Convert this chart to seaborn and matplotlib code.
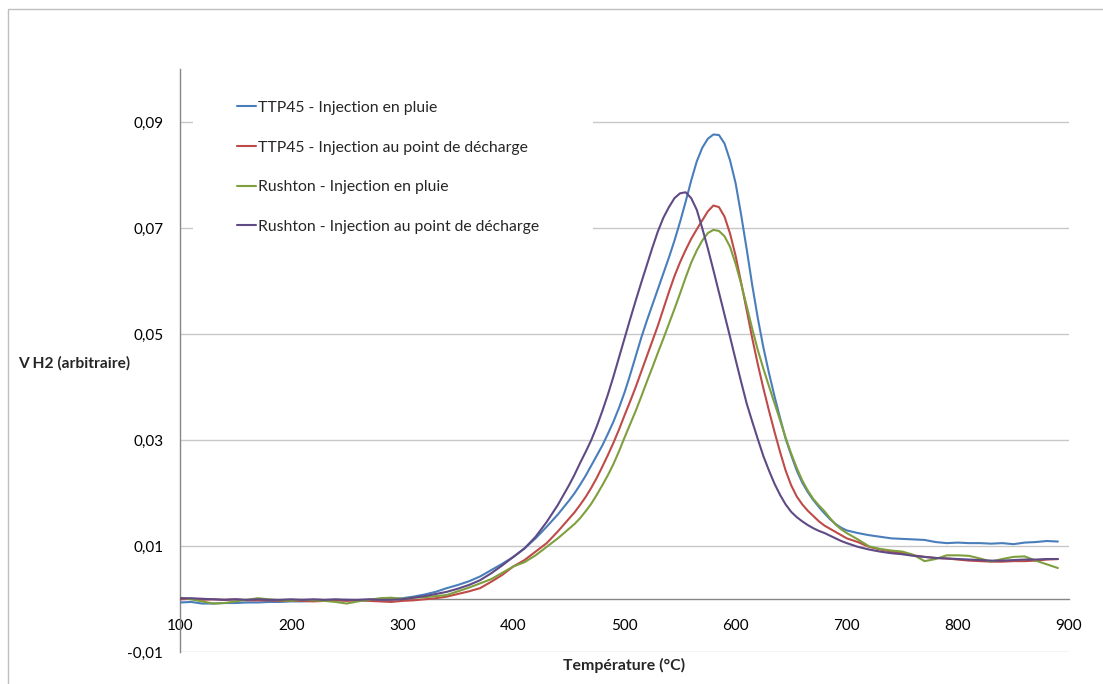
import numpy as np
import pandas as pd
import seaborn as sns
import matplotlib.pyplot as plt
from matplotlib.ticker import FuncFormatter, FixedLocator
from matplotlib.patches import Rectangle

# temperature grid (°C): 10° steps, 5° steps around the peaks
temperature = list(range(100, 451, 10)) + list(range(455, 701, 5)) + list(range(710, 891, 10))

ttp45_pluie = [
    # 100-450
    -0.0006, -0.0005, -0.0008, -0.0008, -0.0007, -0.0007, -0.0006, -0.0006, -0.0005, -0.0005,
    -0.0004, -0.0004, -0.0003, -0.0002, -0.0002, -0.0001, -0.0002, -0.0001, 0.0000, 0.0000,
    0.0002, 0.0005, 0.0009, 0.0014, 0.0021, 0.0027, 0.0034, 0.0043, 0.0055, 0.0067,
    0.0080, 0.0096, 0.0115, 0.0137, 0.0160, 0.0186,
    # 455-700
    0.0200, 0.0216, 0.0233, 0.0252, 0.0271, 0.0290, 0.0312, 0.0335, 0.0361, 0.0390,
    0.0423, 0.0458, 0.0493, 0.0525, 0.0555, 0.0585, 0.0615, 0.0645, 0.0677, 0.0712,
    0.0750, 0.0790, 0.0826, 0.0852, 0.0869, 0.0877, 0.0876, 0.0860, 0.0828, 0.0785,
    0.0725, 0.0660, 0.0592, 0.0530, 0.0475, 0.0427, 0.0383, 0.0342, 0.0303, 0.0272,
    0.0243, 0.0220, 0.0202, 0.0187, 0.0174, 0.0162, 0.0151, 0.0142, 0.0135, 0.0130,
    # 710-890
    0.0125, 0.0121, 0.0118, 0.0115, 0.0114, 0.0113, 0.0112, 0.0108, 0.0106, 0.0107,
    0.0106, 0.0106, 0.0105, 0.0106, 0.0104, 0.0107, 0.0108, 0.0110, 0.0109,
]

ttp45_decharge = [
    0.0000, 0.0001, -0.0001, 0.0000, -0.0001, 0.0000, -0.0002, -0.0002, -0.0002, -0.0003,
    -0.0003, -0.0003, -0.0004, -0.0003, -0.0002, -0.0003, -0.0002, -0.0003, -0.0004, -0.0005,
    -0.0003, -0.0002, 0.0000, 0.0002, 0.0005, 0.0010, 0.0015, 0.0021, 0.0033, 0.0046,
    0.0062, 0.0074, 0.0090, 0.0106, 0.0128, 0.0152,
    0.0164, 0.0178, 0.0193, 0.0210, 0.0229, 0.0250, 0.0272, 0.0295, 0.0320, 0.0347,
    0.0373, 0.0400, 0.0429, 0.0458, 0.0487, 0.0516, 0.0548, 0.0580, 0.0610, 0.0636,
    0.0659, 0.0680, 0.0698, 0.0715, 0.0732, 0.0743, 0.0740, 0.0722, 0.0690, 0.0648,
    0.0597, 0.0545, 0.0492, 0.0443, 0.0398, 0.0356, 0.0316, 0.0278, 0.0243, 0.0215,
    0.0194, 0.0179, 0.0167, 0.0157, 0.0147, 0.0139, 0.0133, 0.0127, 0.0121, 0.0115,
    0.0108, 0.0099, 0.0094, 0.0090, 0.0087, 0.0083, 0.0080, 0.0078, 0.0077, 0.0075,
    0.0073, 0.0072, 0.0071, 0.0071, 0.0072, 0.0072, 0.0073, 0.0075, 0.0076,
]

rushton_pluie = [
    0.0003, 0.0000, -0.0004, -0.0008, -0.0007, -0.0004, -0.0001, 0.0002, 0.0000, -0.0002,
    -0.0003, -0.0001, -0.0002, -0.0003, -0.0005, -0.0008, -0.0004, -0.0001, 0.0002, 0.0003,
    0.0001, 0.0003, 0.0004, 0.0006, 0.0008, 0.0015, 0.0022, 0.0030, 0.0038, 0.0050,
    0.0062, 0.0070, 0.0083, 0.0099, 0.0115, 0.0133,
    0.0142, 0.0153, 0.0166, 0.0180, 0.0197, 0.0215, 0.0234, 0.0255, 0.0279, 0.0305,
    0.0330, 0.0355, 0.0382, 0.0410, 0.0437, 0.0465, 0.0492, 0.0520, 0.0548, 0.0577,
    0.0607, 0.0635, 0.0658, 0.0677, 0.0691, 0.0697, 0.0695, 0.0685, 0.0665, 0.0633,
    0.0595, 0.0553, 0.0510, 0.0470, 0.0435, 0.0402, 0.0370, 0.0338, 0.0305, 0.0275,
    0.0248, 0.0224, 0.0205, 0.0189, 0.0177, 0.0166, 0.0153, 0.0141, 0.0132, 0.0125,
    0.0113, 0.0100, 0.0095, 0.0092, 0.0090, 0.0084, 0.0072, 0.0076, 0.0083, 0.0083,
    0.0082, 0.0077, 0.0071, 0.0076, 0.0080, 0.0081, 0.0073, 0.0066, 0.0059,
]

rushton_decharge = [
    0.0002, 0.0002, 0.0001, 0.0000, -0.0001, 0.0000, -0.0001, 0.0000, -0.0001, -0.0001,
    0.0000, -0.0001, 0.0000, -0.0001, 0.0000, -0.0001, -0.0001, 0.0000, -0.0001, -0.0001,
    0.0000, 0.0003, 0.0006, 0.0010, 0.0014, 0.0020, 0.0027, 0.0036, 0.0049, 0.0064,
    0.0080, 0.0096, 0.0118, 0.0146, 0.0178, 0.0215,
    0.0235, 0.0257, 0.0278, 0.0300, 0.0326, 0.0355, 0.0386, 0.0420, 0.0456, 0.0492,
    0.0528, 0.0563, 0.0597, 0.0630, 0.0663, 0.0694, 0.0720, 0.0740, 0.0757, 0.0766,
    0.0768, 0.0757, 0.0735, 0.0700, 0.0662, 0.0621, 0.0579, 0.0537, 0.0495, 0.0452,
    0.0410, 0.0369, 0.0335, 0.0302, 0.0270, 0.0243, 0.0218, 0.0197, 0.0179, 0.0165,
    0.0155, 0.0147, 0.0140, 0.0134, 0.0129, 0.0125, 0.0120, 0.0115, 0.0110, 0.0106,
    0.0099, 0.0094, 0.0090, 0.0087, 0.0085, 0.0082, 0.0080, 0.0078, 0.0077, 0.0076,
    0.0075, 0.0074, 0.0073, 0.0073, 0.0074, 0.0075, 0.0075, 0.0076, 0.0076,
]

series_names = [
    "TTP45 - Injection en pluie",
    "TTP45 - Injection au point de décharge",
    "Rushton - Injection en pluie",
    "Rushton - Injection au point de décharge",
]
series_colors = ["#4a7ebb", "#be4b48", "#7f9f3e", "#5f4a85"]

y_ticks = [-0.01, 0.01, 0.03, 0.05, 0.07, 0.09]
x_ticks = [100, 200, 300, 400, 500, 600, 700, 800, 900]

frames = []
for name, vals in zip(series_names, [ttp45_pluie, ttp45_decharge, rushton_pluie, rushton_decharge]):
    frames.append(pd.DataFrame({"T": temperature, "V": vals, "serie": name}))
df = pd.concat(frames, ignore_index=True)

sns.set_style("white")
plt.rcParams['font.family'] = ['Lato', 'DejaVu Sans']

fig = plt.figure(figsize=(11.03, 6.84), dpi=100)
ax = fig.add_axes([180 / 1103, 1 - 652.3 / 684, (1069 - 180) / 1103, (652.3 - 69.3) / 684])

sns.lineplot(data=df, x="T", y="V", hue="serie", hue_order=series_names,
             palette=series_colors, linewidth=1.5, legend=False, ax=ax, zorder=3)

ax.set_xlim(100, 900)
ax.set_ylim(-0.01, 0.10)

# axes styling, Excel-like
ax.spines['top'].set_visible(False)
ax.spines['right'].set_visible(False)
ax.spines['bottom'].set_position(('data', 0))
ax.spines['bottom'].set_color('#868686')
ax.spines['left'].set_color('#868686')
ax.spines['bottom'].set_linewidth(1.0)
ax.spines['left'].set_linewidth(1.0)

ax.yaxis.set_major_locator(FixedLocator(y_ticks))
ax.xaxis.set_major_locator(FixedLocator(x_ticks))
ax.yaxis.set_major_formatter(FuncFormatter(lambda v, p: f"{v:.2f}".replace('.', ',')))
ax.xaxis.set_major_formatter(FuncFormatter(lambda v, p: f"{int(v)}"))
ax.tick_params(axis='both', length=0, labelsize=11, colors='black')
ax.tick_params(axis='y', pad=12)
ax.tick_params(axis='x', pad=14)

ax.grid(axis='y', color='#c8c8c8', linewidth=1.0)
ax.grid(axis='x', visible=False)
ax.set_axisbelow(True)

ax.set_xlabel("Température (°C)", fontsize=11.4, fontweight='bold', va='center')
ax.xaxis.set_label_coords(0.5, -0.023)
ax.set_ylabel("")
fig.text(18 / 1103, 1 - 363 / 684, "V H2 (arbitraire)", fontsize=11.2,
         fontweight='bold', ha='left', va='center')

# legend box with white fill hiding the gridlines behind it
leg_top = 1 - 57 / 684
leg = ax.legend(ax.get_lines()[:4], series_names, loc='upper left', mode='expand',
                bbox_to_anchor=(193 / 1103, leg_top - 0.3, 400 / 1103, 0.3),
                bbox_transform=fig.transFigure,
                fontsize=11.3, frameon=True, fancybox=False, borderpad=2.8,
                borderaxespad=0, handlelength=1.2, handletextpad=0.12,
                labelspacing=1.63, facecolor='white', edgecolor='none', framealpha=1)
leg.set_zorder(2)

# chart area border
fig.patches.append(Rectangle((8 / 1103, -0.05), 1.2, 1 - 9 / 684 + 0.05,
                             transform=fig.transFigure, fill=False,
                             edgecolor='#bfbfbf', linewidth=1.0))

fig.savefig("out.png", dpi=100)
